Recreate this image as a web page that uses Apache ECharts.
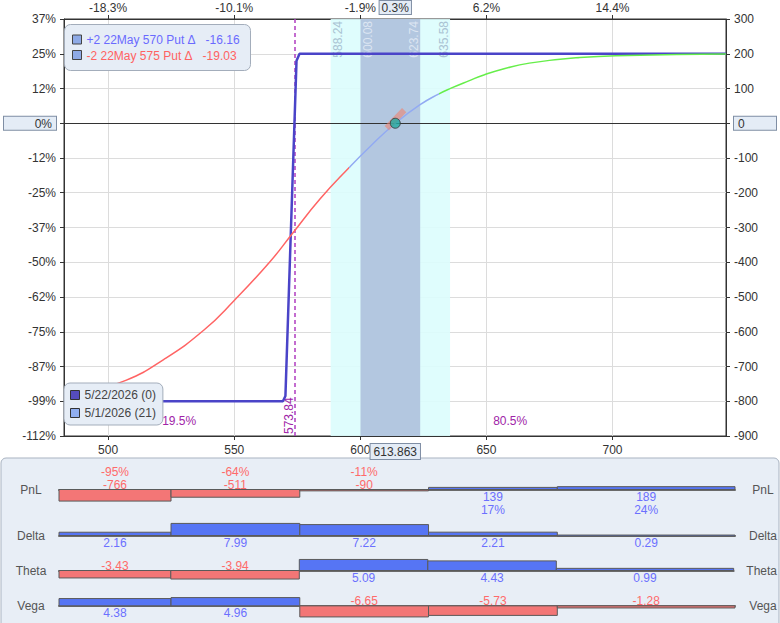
<!DOCTYPE html>
<html>
<head>
<meta charset="utf-8">
<title>Put spread risk graph</title>
<script src="https://cdn.jsdelivr.net/npm/echarts@6.0.0/dist/echarts.min.js"></script>
<style>
  html, body { margin: 0; padding: 0; background: #fff; }
  #chart { width: 780px; height: 623px; }
</style>
</head>
<body>
<div id="chart"></div>
<script>
// price axis
var xMin = 482.5, xMax = 745;
var priceTicks = [500, 550, 600, 650, 700];
var spot = 613.863;
var labelValues = [500, 550, 600, 613.863, 650, 700];
var topPctLabels = ['-18.3%', '-10.1%', '-1.9%', '0.3%', '6.2%', '14.4%'];

// pnl axis (-900..300 step 100) and its % labels on the left
var leftPctLabels = ['-112%', '-99%', '-87%', '-75%', '-62%', '-50%', '-37%',
  '-25%', '-12%', '0%', '12%', '25%', '37%'];

// pnl curves [price, pnl]
var expPnl = [[482.5, -800], [569.3, -800], [570.3, -785], [574.7, 180], [575.9, 200], [745, 200]];
var t21Pnl = [[482.5, -790], [491, -775], [507, -740], [522, -680], [538, -595], [550, -510],
  [564, -400], [573, -318], [584, -218], [595.5, -128], [604, -66], [613.9, 0], [623.4, 52],
  [631, 84], [636, 101], [643, 122], [649, 139], [657, 157], [667, 173], [687, 189],
  [706, 195], [745, 199]];
var t21ColorCuts = [595.5, 631];
var spotDelta = [[610.5, -14], [617.4, 38]];

var outerBand = [588.24, 635.58];
var innerBand = [600.08, 623.74];
var breakeven = 573.84;
var probBelow = '19.5%';
var probAbove = '80.5%';

var positionLabels = ['+2 22May 570 Put Δ   -16.16', '-2 22May 575 Put Δ   -19.03'];
var seriesNames = ['5/22/2026 (0)', '5/1/2026 (21)'];

// greeks panel
var bucketEdges = [482.5, 526, 576, 626, 676, 745];
var pnlValues = [-766, -511, -90, 139, 189];
var pnlPct = ['-95%', '-64%', '-11%', '17%', '24%'];
var deltaValues = [2.16, 7.99, 7.22, 2.21, 0.29];
var thetaValues = [-3.43, -3.94, 5.09, 4.43, 0.99];
var vegaValues = [4.38, 4.96, -6.65, -5.73, -1.28];

var FONT = 'Liberation Sans, Arial, sans-serif';
var BLUE_TXT = '#6b70ff', RED_TXT = '#ff6a6a';

var chart = echarts.init(document.getElementById('chart'), null, { renderer: 'svg' });

var rows = [
  { name: 'PnL', values: pnlValues, pct: pnlPct, range: 1190, base: 489.5 },
  { name: 'Delta', values: deltaValues, range: 11.9, base: 535.5 },
  { name: 'Theta', values: thetaValues, range: 8.3, base: 570.5 },
  { name: 'Vega', values: vegaValues, range: 10.3, base: 606.7 }
];

var boxStyle = { backgroundColor: '#e4ecf6', borderColor: '#7f8ea4', borderWidth: 1 };

function keepSpaces(s) { return s.replace(/ /g, '\u00a0'); }

var grids = [{ left: 58, right: 47, top: 18, height: 418, show: true, borderColor: '#333', borderWidth: 1 }];
var xAxes = [
  {
    type: 'value', gridIndex: 0, min: xMin, max: xMax, position: 'bottom',
    axisLine: { show: true, onZero: false, lineStyle: { color: '#333' } },
    axisTick: { customValues: priceTicks, length: 4, lineStyle: { color: '#333' } },
    axisLabel: {
      customValues: labelValues, color: '#333', fontSize: 12, fontFamily: FONT, margin: 8,
      formatter: function (v) { return v === spot ? '{box|' + v + '}' : String(v); },
      rich: { box: Object.assign({ padding: [2, 3, 1, 3], fontSize: 12, fontFamily: FONT, color: '#333' }, boxStyle) }
    },
    splitLine: { show: true, lineStyle: { color: '#dcdcdc' } }
  },
  {
    type: 'value', gridIndex: 0, min: xMin, max: xMax, position: 'top',
    axisLine: { show: true, onZero: false, lineStyle: { color: '#333' } },
    axisTick: { customValues: priceTicks, length: 4, lineStyle: { color: '#333' } },
    axisLabel: {
      customValues: labelValues, color: '#333', fontSize: 12, fontFamily: FONT, margin: 5,
      formatter: function (v) {
        var t = topPctLabels[labelValues.indexOf(v)];
        return v === spot ? '{box|' + t + '}' : t;
      },
      rich: { box: Object.assign({ padding: [1, 2, 0, 2], fontSize: 12, fontFamily: FONT, color: '#333' }, boxStyle) }
    },
    splitLine: { show: false }
  }
];
var yAxes = [
  {
    type: 'value', gridIndex: 0, min: -900, max: 300, interval: 100, position: 'left',
    axisLine: { show: true, lineStyle: { color: '#333' } },
    axisTick: { show: true, length: 4, lineStyle: { color: '#333' } },
    axisLabel: {
      color: '#333', fontSize: 12, fontFamily: FONT, margin: 8,
      formatter: function (v) {
        var t = leftPctLabels[Math.round((v + 900) / 100)];
        return v === 0 ? '{zero|' + t + '}' : t;
      },
      rich: { zero: Object.assign({ width: 44, align: 'right', padding: [1, 4, 0, 4], fontSize: 12, fontFamily: FONT, color: '#333' }, boxStyle) }
    },
    splitLine: { show: true, lineStyle: { color: '#dcdcdc' } }
  },
  {
    type: 'value', gridIndex: 0, min: -900, max: 300, interval: 100, position: 'right',
    axisLine: { show: true, lineStyle: { color: '#333' } },
    axisTick: { show: true, length: 4, lineStyle: { color: '#333' } },
    axisLabel: {
      color: '#333', fontSize: 12, fontFamily: FONT, margin: 8,
      formatter: function (v) { return v === 0 ? '{zero|0}' : String(v); },
      rich: { zero: Object.assign({ width: 34, align: 'left', padding: [1, 4, 0, 4], fontSize: 12, fontFamily: FONT, color: '#333' }, boxStyle) }
    },
    splitLine: { show: false }
  }
];

function rowLabelAxis(r, gi, pos, name) {
  return {
    type: 'value', gridIndex: gi, min: -r.range, max: r.range, position: pos,
    axisLine: { show: false }, axisTick: { show: false }, splitLine: { show: false },
    axisLabel: {
      customValues: [0], align: 'center', margin: 28, color: '#555', fontSize: 12, fontFamily: FONT,
      formatter: function () { return name; }
    }
  };
}

function barItem(row) {
  return function (params, api) {
    var x0 = api.value(0), x1 = api.value(1), v = api.value(2), i = api.value(3);
    var p0 = api.coord([x0, 0]);
    var p1 = api.coord([x1, v]);
    var top = Math.min(p0[1], p1[1]);
    var h = Math.max(Math.abs(p1[1] - p0[1]), 1);
    var pos = v >= 0;
    var txt = row.pct ? (pos ? v + '\n' + row.pct[i] : row.pct[i] + '\n' + v) : v.toFixed(2);
    return {
      type: 'group',
      children: [
        {
          type: 'rect',
          shape: { x: p0[0], y: top, width: p1[0] - p0[0], height: h },
          style: { fill: pos ? '#5675f4' : '#f37676', stroke: '#5a5a5a', lineWidth: 1 }
        },
        {
          type: 'text',
          x: (p0[0] + p1[0]) / 2,
          y: pos ? p0[1] + 1 : p0[1] + 1.5,
          style: {
            text: txt, fill: pos ? BLUE_TXT : RED_TXT, fontSize: 12, fontFamily: FONT,
            align: 'center', verticalAlign: pos ? 'top' : 'bottom', lineHeight: 13
          }
        }
      ]
    };
  };
}

var rowSeries = [];
rows.forEach(function (r, k) {
  var gi = k + 1;
  grids.push({ left: 59, right: 45, top: r.base - 18, height: 36 });
  xAxes.push({
    type: 'value', gridIndex: gi, min: xMin, max: xMax,
    axisLine: { show: true, onZero: true, lineStyle: { color: '#6a6a6a', width: 2 } },
    axisTick: { show: false }, axisLabel: { show: false }, splitLine: { show: false }
  });
  yAxes.push(rowLabelAxis(r, gi, 'left', r.name));
  yAxes.push(rowLabelAxis(r, gi, 'right', r.name));
  var data = r.values.map(function (v, i) { return [bucketEdges[i], bucketEdges[i + 1], v, i]; });
  rowSeries.push({
    type: 'custom', coordinateSystem: 'cartesian2d', xAxisIndex: 2 + k, yAxisIndex: 2 + 2 * k,
    encode: { x: [0, 1], y: 2 }, data: data, renderItem: barItem(r), silent: true, z: 5
  });
});

var bandEdges = [outerBand[0], innerBand[0], innerBand[1], outerBand[1]];

var option = {
  animation: false,
  backgroundColor: '#fff',
  textStyle: { fontFamily: FONT },
  grid: grids,
  xAxis: xAxes,
  yAxis: yAxes,
  legend: {
    data: [
      { name: seriesNames[0], itemStyle: { color: '#554cbc', borderColor: '#333', borderWidth: 1 } },
      { name: seriesNames[1], itemStyle: { color: '#90aef0', borderColor: '#333', borderWidth: 1 } }
    ],
    orient: 'vertical', left: 64, top: 383, z: 20,
    icon: 'rect', itemWidth: 9, itemHeight: 9, itemGap: 6, padding: [6, 7, 6, 6],
    backgroundColor: '#e6edf6', borderColor: '#a3adbb', borderWidth: 1, borderRadius: 6,
    textStyle: { color: '#444', fontSize: 12, fontFamily: FONT }
  },
  visualMap: {
    show: false, type: 'piecewise', seriesIndex: 2, dimension: 0,
    pieces: [
      { lt: t21ColorCuts[0], color: '#ff6464' },
      { gte: t21ColorCuts[0], lte: t21ColorCuts[1], color: '#92aaf2' },
      { gt: t21ColorCuts[1], color: '#66ee4a' }
    ]
  },
  graphic: [
    {
      type: 'rect', z: -1, silent: true,
      shape: { x: 1, y: 458, width: 778, height: 170, r: 5 },
      style: { fill: '#e8eef6', stroke: '#a9b3c1', lineWidth: 1 }
    },
    {
      type: 'group', left: 64, top: 24, z: 20,
      children: [
        { type: 'rect', z: 20, shape: { x: 0, y: 0, width: 186, height: 46, r: 6 }, style: { fill: '#e6edf6', stroke: '#a3adbb', lineWidth: 1 } },
        { type: 'rect', z: 21, shape: { x: 8, y: 10.5, width: 9, height: 9 }, style: { fill: '#8eaae6', stroke: '#444', lineWidth: 1 } },
        { type: 'text', z: 21, x: 22, y: 15.5, style: { text: keepSpaces(positionLabels[0]), fill: '#6a6aff', fontSize: 12, fontFamily: FONT, verticalAlign: 'middle' } },
        { type: 'rect', z: 21, shape: { x: 8, y: 26, width: 9, height: 9 }, style: { fill: '#8eaae6', stroke: '#444', lineWidth: 1 } },
        { type: 'text', z: 21, x: 22, y: 31, style: { text: keepSpaces(positionLabels[1]), fill: '#ff6262', fontSize: 12, fontFamily: FONT, verticalAlign: 'middle' } }
      ]
    }
  ],
  series: [
    {
      // probability bands
      type: 'line', data: [], z: 1, silent: true,
      markArea: {
        silent: true,
        data: [
          [{ xAxis: outerBand[0], itemStyle: { color: '#dcfdfd', opacity: 0.9 } }, { xAxis: outerBand[1] }],
          [{ xAxis: innerBand[0], itemStyle: { color: '#b0c4de', opacity: 0.95 } }, { xAxis: innerBand[1] }]
        ]
      }
    },
    {
      name: seriesNames[0], type: 'line', data: expPnl, showSymbol: false, z: 5,
      lineStyle: { color: '#4a44c8', width: 2.5 }, itemStyle: { color: '#554cbc' },
      markLine: {
        silent: true, symbol: ['none', 'none'], label: { show: false },
        data: [
          { yAxis: 0, lineStyle: { color: '#333', type: 'solid', width: 1 } },
          { xAxis: breakeven, lineStyle: { color: '#b03cc0', type: [4, 3], width: 1.5 } }
        ]
      }
    },
    {
      name: seriesNames[1], type: 'line', data: t21Pnl, smooth: true, showSymbol: false, z: 6,
      lineStyle: { width: 1.5 }, itemStyle: { color: '#90aef0' }
    },
    {
      type: 'line', data: spotDelta, showSymbol: false, silent: true, z: 7,
      lineStyle: { color: 'rgba(238,130,112,0.6)', width: 6 }
    },
    {
      type: 'scatter', data: [[spot, 0]], symbolSize: 10, silent: true, z: 8,
      itemStyle: { color: '#22aaa0', borderColor: '#333', borderWidth: 1 }
    },
    {
      // band edge labels
      type: 'custom', coordinateSystem: 'cartesian2d', xAxisIndex: 0, yAxisIndex: 0, z: 4,
      data: bandEdges.map(function (v) { return [v, 300]; }), silent: true,
      renderItem: function (params, api) {
        var x = api.value(0);
        var p = api.coord([x, 300]);
        var inner = x === innerBand[0] || x === innerBand[1];
        return {
          type: 'text', x: p[0] + (x < spot ? 7 : -6), y: p[1] + 2, rotation: Math.PI / 2,
          style: {
            text: x.toFixed(2), fill: inner ? '#dce5f2' : '#aac3d3', fontSize: 12, fontFamily: FONT,
            align: 'right', verticalAlign: 'middle'
          }
        };
      }
    },
    {
      // breakeven and probability labels
      type: 'custom', coordinateSystem: 'cartesian2d', xAxisIndex: 0, yAxisIndex: 0, z: 4,
      data: [[breakeven, -900, 0], [(xMin + breakeven) / 2, -900, 1], [(breakeven + xMax) / 2, -900, 2]], silent: true,
      renderItem: function (params, api) {
        var x = api.value(0), kind = api.value(2);
        var p = api.coord([x, -900]);
        if (kind === 0) {
          return {
            type: 'text', x: p[0] - 5, y: p[1] - 2, rotation: Math.PI / 2,
            style: { text: String(breakeven), fill: '#a024a8', fontSize: 12, fontFamily: FONT, align: 'left', verticalAlign: 'middle' }
          };
        }
        return {
          type: 'text', x: p[0], y: p[1] - 15,
          style: { text: kind === 1 ? probBelow : probAbove, fill: '#a024a8', fontSize: 12, fontFamily: FONT, align: 'center', verticalAlign: 'middle' }
        };
      }
    }
  ].concat(rowSeries)
};

chart.setOption(option);
</script>
</body>
</html>
